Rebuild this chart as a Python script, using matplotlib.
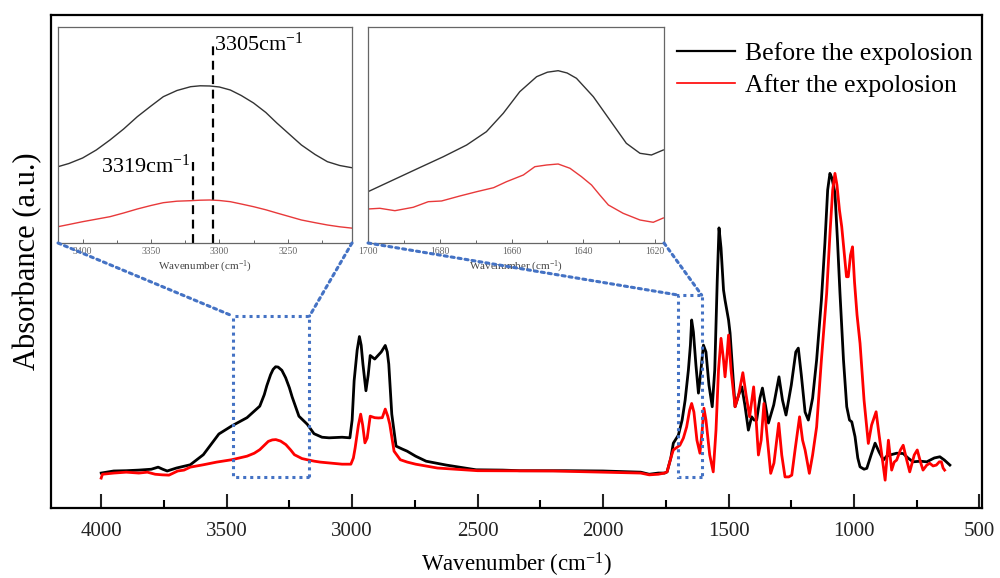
import numpy as np
import matplotlib
matplotlib.use("Agg")
import matplotlib.pyplot as plt
from matplotlib.patches import Rectangle, ConnectionPatch
from matplotlib.ticker import MultipleLocator

plt.rcParams['font.family'] = ['Liberation Serif', 'DejaVu Serif']
plt.rcParams['mathtext.fontset'] = 'custom'
plt.rcParams['mathtext.rm'] = 'Liberation Serif'
plt.rcParams['mathtext.it'] = 'Liberation Serif:italic'

# --- FTIR spectra, full range (wavenumber cm-1, absorbance a.u.) ---
wn_before = [4000, 3950, 3900, 3850, 3800, 3773, 3755, 3737, 3700, 3645, 3593, 3531, 3480, 3419,
             3368, 3350, 3340, 3325, 3315, 3305, 3295, 3280, 3265, 3250, 3239, 3212, 3179, 3152,
             3120, 3092, 3040, 3009, 3000, 2992, 2980, 2971, 2964, 2957, 2945, 2936, 2928, 2910,
             2895, 2884, 2868, 2860, 2854, 2842, 2825, 2800, 2781, 2747, 2705, 2625, 2506, 2400,
             2333, 2150, 2000, 1850, 1816, 1780, 1755, 1745, 1730, 1720, 1700, 1685, 1673, 1660,
             1652, 1647, 1640, 1630, 1620, 1612, 1600, 1590, 1578, 1565, 1555, 1545, 1538, 1530,
             1520, 1514, 1500, 1494, 1484, 1474, 1460, 1447, 1435, 1421, 1408, 1398, 1388, 1375,
             1365, 1353, 1341, 1320, 1299, 1285, 1271, 1250, 1232, 1222, 1210, 1195, 1182, 1165,
             1149, 1130, 1116, 1105, 1096, 1088, 1076, 1066, 1056, 1042, 1029, 1018, 1009, 996,
             985, 976, 960, 949, 932, 916, 900, 883, 870, 857, 830, 804, 785, 765, 735, 710, 680,
             658, 640, 618]
ab_before = [-0.010, -0.003, -0.002, 0.000, 0.003, 0.010, 0.003, -0.003, 0.007, 0.018, 0.052, 0.122,
             0.149, 0.177, 0.216, 0.255, 0.285, 0.322, 0.340, 0.349, 0.348, 0.337, 0.312, 0.278,
             0.247, 0.182, 0.155, 0.123, 0.111, 0.109, 0.111, 0.109, 0.169, 0.302, 0.405, 0.451,
             0.422, 0.358, 0.268, 0.321, 0.387, 0.375, 0.389, 0.399, 0.421, 0.399, 0.358, 0.189,
             0.081, 0.071, 0.064, 0.047, 0.030, 0.017, 0.001, 0.000, -0.002, -0.002, -0.003, -0.007,
             -0.014, -0.010, -0.010, -0.006, 0.041, 0.091, 0.118, 0.169, 0.236, 0.338, 0.422, 0.507,
             0.466, 0.355, 0.260, 0.321, 0.422, 0.399, 0.287, 0.214, 0.338, 0.642, 0.818, 0.750,
             0.608, 0.574, 0.507, 0.463, 0.338, 0.214, 0.253, 0.281, 0.220, 0.135, 0.180, 0.169,
             0.169, 0.243, 0.277, 0.220, 0.159, 0.220, 0.315, 0.236, 0.186, 0.287, 0.399, 0.412,
             0.321, 0.196, 0.169, 0.243, 0.372, 0.574, 0.767, 0.946, 1.002, 0.986, 0.936, 0.777,
             0.598, 0.372, 0.214, 0.169, 0.163, 0.113, 0.041, 0.011, 0.003, 0.006, 0.051, 0.091,
             0.061, 0.034, 0.047, 0.051, 0.057, 0.056, 0.041, 0.028, 0.030, 0.028, 0.041, 0.045,
             0.034, 0.017]

wn_after = [4000, 3995, 3950, 3900, 3850, 3816, 3785, 3757, 3730, 3695, 3670, 3645, 3593, 3540,
            3480, 3419, 3390, 3368, 3350, 3334, 3318, 3304, 3285, 3264, 3245, 3230, 3200, 3179,
            3150, 3127, 3040, 3005, 2995, 2988, 2975, 2966, 2958, 2949, 2940, 2928, 2910, 2895,
            2880, 2868, 2858, 2850, 2833, 2808, 2780, 2747, 2660, 2500, 2200, 2000, 1850, 1816,
            1780, 1755, 1745, 1730, 1720, 1694, 1680, 1667, 1655, 1647, 1638, 1626, 1614, 1605,
            1598, 1590, 1575, 1561, 1550, 1540, 1530, 1520, 1514, 1506, 1500, 1490, 1474, 1460,
            1443, 1430, 1416, 1400, 1390, 1381, 1370, 1359, 1345, 1332, 1319, 1300, 1288, 1275,
            1260, 1248, 1235, 1217, 1205, 1195, 1178, 1165, 1149, 1130, 1109, 1095, 1085, 1076,
            1068, 1058, 1049, 1040, 1030, 1023, 1014, 1006, 998, 988, 976, 960, 943, 930, 912, 900,
            890, 876, 863, 850, 840, 830, 815, 804, 790, 778, 760, 748, 735, 725, 710, 698, 685,
            672, 660, 652, 645, 639]
ab_after = [-0.027, -0.014, -0.010, -0.007, -0.010, -0.007, -0.014, -0.016, -0.017, -0.003, 0.000,
            0.010, 0.018, 0.027, 0.035, 0.047, 0.057, 0.069, 0.084, 0.097, 0.102, 0.103, 0.098,
            0.086, 0.068, 0.052, 0.039, 0.035, 0.030, 0.027, 0.020, 0.020, 0.041, 0.075, 0.152,
            0.189, 0.152, 0.092, 0.108, 0.182, 0.177, 0.176, 0.177, 0.206, 0.182, 0.155, 0.064,
            0.035, 0.027, 0.020, 0.007, -0.002, -0.003, -0.007, -0.010, -0.016, -0.014, -0.010,
            -0.006, 0.041, 0.068, 0.084, 0.108, 0.146, 0.203, 0.225, 0.196, 0.101, 0.057, 0.135,
            0.209, 0.169, 0.051, -0.006, 0.135, 0.338, 0.445, 0.372, 0.315, 0.389, 0.456, 0.338,
            0.214, 0.253, 0.329, 0.253, 0.180, 0.281, 0.169, 0.051, 0.101, 0.225, 0.101, -0.011,
            0.024, 0.158, 0.051, -0.023, -0.023, -0.017, 0.068, 0.180, 0.101, 0.068, -0.011, 0.051,
            0.146, 0.372, 0.597, 0.811, 0.946, 1.002, 0.963, 0.878, 0.822, 0.743, 0.653, 0.653,
            0.726, 0.754, 0.635, 0.524, 0.428, 0.236, 0.090, 0.152, 0.197, 0.118, 0.056, -0.034,
            0.101, 0.000, 0.027, 0.034, 0.068, 0.084, 0.034, -0.006, 0.051, 0.068, 0.027, 0.000,
            0.017, 0.023, 0.014, 0.017, 0.028, 0.028, 0.007, 0.000]

# --- zoomed O-H / N-H band ---
wn_oh = [3418, 3410, 3400, 3390, 3380, 3370, 3360, 3350, 3341, 3331, 3321, 3314, 3307, 3300,
         3292, 3284, 3275, 3266, 3258, 3249, 3240, 3230, 3221, 3212, 3202]
oh_before = [76.3, 79.5, 85.0, 93.0, 103.0, 114.0, 126.3, 137.0, 146.3, 152.5, 156.3, 157.2,
             157.0, 156.0, 153.0, 147.5, 140.0, 130.5, 120.0, 109.0, 98.0, 88.5, 81.3, 77.5, 75.0]
oh_after = [16.3, 18.5, 21.3, 23.8, 26.3, 30.0, 34.0, 37.5, 40.3, 41.8, 42.3, 42.8, 43.0, 42.5,
            41.3, 39.0, 36.3, 33.2, 30.0, 26.5, 23.0, 20.3, 18.0, 16.2, 14.7]
peak_before = 3305
peak_after = 3319

# --- zoomed amide I band ---
wn_co_b = [1700, 1693, 1686, 1679, 1672.5, 1667, 1662.3, 1657.7, 1653, 1650, 1647, 1644.5, 1641.9,
           1637.2, 1632.6, 1628, 1624.2, 1621, 1617.7]
co_before = [51.3, 63.0, 74.7, 86.3, 98.0, 111.3, 129.7, 151.3, 166.3, 170.8, 172.3, 170.0, 164.7,
             146.3, 123.0, 99.7, 89.7, 88.0, 93.0]
wn_co_a = [1700, 1696.7, 1692.5, 1687.4, 1683.2, 1679.5, 1674.4, 1669.7, 1665, 1661.4, 1656.7,
           1653.5, 1650.2, 1647, 1643.7, 1640.5, 1637.7, 1635.4, 1633, 1628.9, 1624.2, 1620.5,
           1617.7]
co_after = [34.0, 34.7, 32.3, 35.7, 41.3, 42.0, 47.0, 51.3, 55.3, 61.3, 68.0, 76.3, 78.0, 79.0,
            74.7, 66.3, 58.0, 48.0, 38.0, 29.7, 23.0, 20.7, 25.0]

zoom_oh = (3475, 3170, -0.024, 0.52)
zoom_co = (1700, 1607, -0.024, 0.591)

blue = '#4472c4'

fig = plt.figure(figsize=(10, 5.78), dpi=100)
ax = fig.add_axes([0.051, 0.1211, 0.931, 0.853])

ax.plot(wn_before, ab_before, color='black', lw=2.0, label='Before the expolosion')
ax.plot(wn_after, ab_after, color='#ff0000', lw=2.0, label='After the expolosion')

ax.set_xlim(4200, 490)
ax.set_ylim(-0.128, 1.537)
ax.xaxis.set_major_locator(MultipleLocator(500))
ax.xaxis.set_minor_locator(MultipleLocator(250))
ax.tick_params(axis='x', which='major', direction='in', length=10, width=1.5,
               labelsize=15, pad=10, colors='#222222')
ax.tick_params(axis='x', which='minor', direction='in', length=6, width=1.5)
ax.set_yticks([])
for s in ax.spines.values():
    s.set_linewidth(1.6)
ax.set_xlabel('Wavenumber (cm$^{-1}$)', fontsize=16.5, labelpad=7)
ax.set_ylabel('Absorbance (a.u.)', fontsize=22, labelpad=6)

leg = ax.legend(loc='upper left', bbox_to_anchor=(0.654, 0.9675), bbox_transform=fig.transFigure,
                frameon=False, fontsize=18.5, handlelength=2.25, handletextpad=0.4,
                labelspacing=0.37)
leg.get_lines()[0].set_linewidth(1.6)
leg.get_lines()[1].set_linewidth(1.2)

# dotted boxes on the zoomed regions
for (x0, x1, y0, y1) in (zoom_oh, zoom_co):
    ax.add_patch(Rectangle((x1, y0), x0 - x1, y1 - y0, fill=False, edgecolor=blue,
                           lw=2.2, linestyle=(0, (1, 1.3)), zorder=5))


def style_inset(a, major, minor):
    a.xaxis.set_major_locator(MultipleLocator(major))
    a.xaxis.set_minor_locator(MultipleLocator(minor))
    a.tick_params(axis='x', which='major', direction='in', length=3, width=0.7,
                  labelsize=7, colors='#666666', pad=3)
    a.tick_params(axis='x', which='minor', direction='in', length=2, width=0.7, colors='#666666')
    a.set_yticks([])
    for s in a.spines.values():
        s.set_color('#666666')
        s.set_linewidth(0.9)
    a.set_xlabel('Wavenumber (cm$^{-1}$)', fontsize=8, color='#444444', labelpad=2)


ax1 = fig.add_axes([0.058, 0.5796, 0.294, 0.3737])
ax1.plot(wn_oh, oh_before, color='#333333', lw=1.0)
ax1.plot(wn_oh, oh_after, color='#e8393a', lw=1.0)
ax1.set_xlim(3418, 3203)
ax1.set_ylim(0, 216)
style_inset(ax1, 50, 25)
ax1.vlines(peak_before, 0, 198, colors='black', linestyles=(0, (4, 2.5)), lw=1.6)
ax1.vlines(peak_after, 0, 81, colors='black', linestyles=(0, (4, 2.5)), lw=1.6)
ax1.text(peak_before - 1, 192, f'{peak_before}cm$^{{-1}}$', fontsize=16, ha='left', va='baseline')
ax1.text(peak_after + 2, 70, f'{peak_after}cm$^{{-1}}$', fontsize=16, ha='right', va='baseline')

ax2 = fig.add_axes([0.368, 0.5796, 0.296, 0.3737])
ax2.plot(wn_co_b, co_before, color='#333333', lw=1.0)
ax2.plot(wn_co_a, co_after, color='#e8393a', lw=1.0)
ax2.set_xlim(1700, 1617.5)
ax2.set_ylim(0, 216)
style_inset(ax2, 20, 10)

# connector lines from inset corners to the dotted boxes
for a, (x0, x1, y0, y1) in ((ax1, zoom_oh), (ax2, zoom_co)):
    for corner, xd in (((0, 0), x0), ((1, 0), x1)):
        con = ConnectionPatch(xyA=corner, coordsA=a.transAxes, xyB=(xd, y1), coordsB=ax.transData,
                              color=blue, lw=2.2, linestyle=(0, (1, 1.3)), zorder=6)
        fig.add_artist(con)

fig.savefig('out.png', dpi=100)
